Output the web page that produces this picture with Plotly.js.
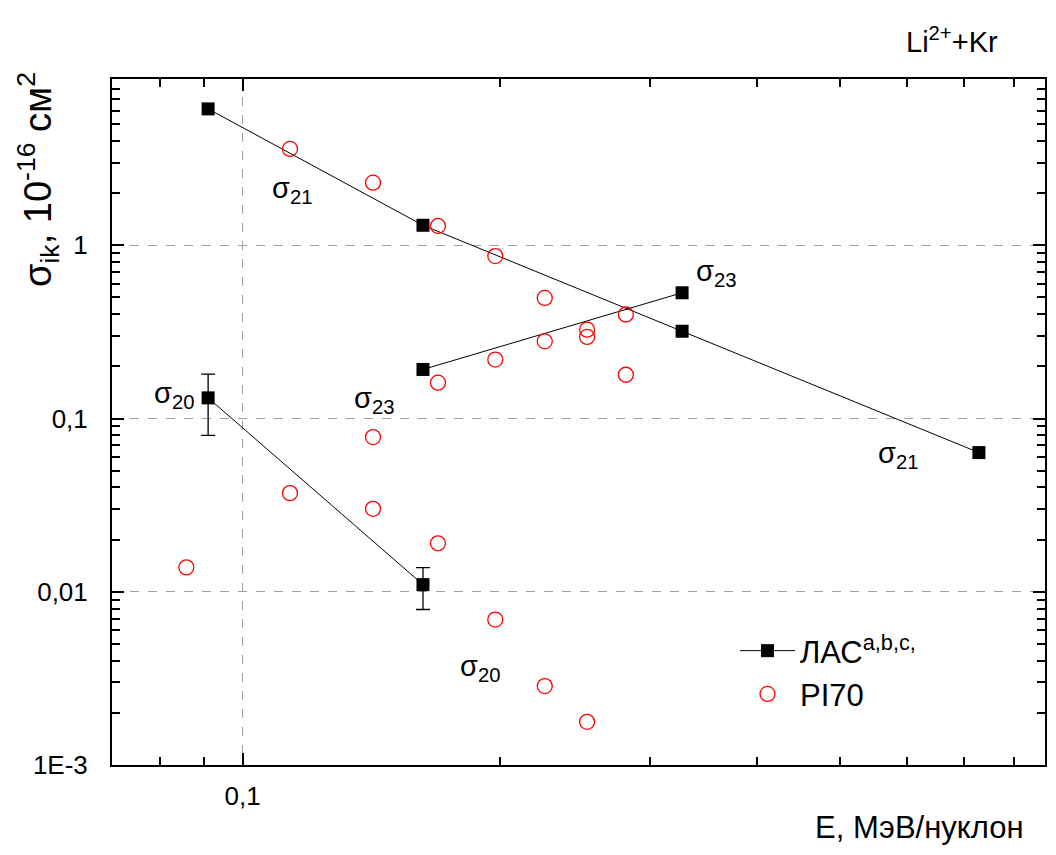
<!DOCTYPE html>
<html>
<head>
<meta charset="utf-8">
<script src="https://cdn.plot.ly/plotly-3.0.1.min.js"></script>
<style>html,body{margin:0;padding:0;background:#fff;}#chart{width:1056px;height:855px;}</style>
</head>
<body>
<div id="chart"></div>
<script>
// ---- data ----
// ЛАС measurements, E in MeV/nucleon, sigma in 1e-16 cm^2
const lasSigma21E = [0.0911, 0.1626, 0.327, 0.728];
const lasSigma21 = [6.13, 1.305, 0.319, 0.0636];
const lasSigma23E = [0.1626, 0.327];
const lasSigma23 = [0.192, 0.532];
const lasSigma20E = [0.0911, 0.1626];
const lasSigma20 = [0.1316, 0.0110];
const lasSigma20ErrPlus = [0.0489, 0.0028];
const lasSigma20ErrMinus = [0.0516, 0.0031];

// PI70 calculation
const piSigma21E = [0.1136, 0.1421, 0.1693, 0.1976, 0.2258, 0.2531, 0.281];
const piSigma21 = [3.60, 2.30, 1.293, 0.867, 0.497, 0.326, 0.3985];
const piSigma23E = [0.1421, 0.1693, 0.1976, 0.2258, 0.2531, 0.281];
const piSigma23 = [0.0782, 0.161, 0.219, 0.279, 0.296, 0.179];
const piSigma20E = [0.0859, 0.1136, 0.1421, 0.1693, 0.1976, 0.2258, 0.2531];
const piSigma20 = [0.01383, 0.0371, 0.0301, 0.01905, 0.00691, 0.002856, 0.001775];

// axis ticks
const xTickVals = [0.1];
const xTickText = ['0,1'];
const xMinorVals = [0.08, 0.09, 0.2, 0.3, 0.4, 0.5, 0.6, 0.7, 0.8];
const yTickVals = [0.001, 0.01, 0.1, 1];
const yTickText = ['1E-3', '0,01', '0,1', '1'];
const yMinorVals = [];
[0.001, 0.01, 0.1, 1].forEach(d => { for (let k = 2; k <= 9; k++) yMinorVals.push(d * k); });

// ---- layout helpers (pixel -> paper) ----
const PL = 112, PR = 1045, PT = 79, PB = 765;
const px = x => (x - PL) / (PR - PL);
const py = y => (PB - y) / (PB - PT);

const FONT = 'Liberation Sans, Arial, sans-serif';
const lineStyle = {color: '#000', width: 1};
const sq = {symbol: 'square', size: 13, color: '#000'};

const traces = [
  {x: lasSigma21E, y: lasSigma21, mode: 'lines+markers', name: 'ЛАС<sup>a,b,c,</sup>',
   legendgroup: 'las', line: lineStyle, marker: sq, showlegend: true},
  {x: lasSigma23E, y: lasSigma23, mode: 'lines+markers', name: 'ЛАС',
   legendgroup: 'las', line: lineStyle, marker: sq, showlegend: false},
  {x: lasSigma20E, y: lasSigma20, mode: 'lines+markers', name: 'ЛАС',
   legendgroup: 'las', line: lineStyle, marker: sq, showlegend: false,
   error_y: {type: 'data', array: lasSigma20ErrPlus, arrayminus: lasSigma20ErrMinus,
             visible: true, color: '#000', thickness: 1.3, width: 7}},
  {x: piSigma21E.concat(piSigma23E, piSigma20E),
   y: piSigma21.concat(piSigma23, piSigma20),
   mode: 'markers', name: 'PI70',
   marker: {symbol: 'circle-open', size: 15, color: '#ff0000', line: {width: 1.3, color: '#ff0000'}}}
];

const axisCommon = {
  type: 'log', showline: true, linecolor: '#000', linewidth: 2, mirror: 'allticks',
  ticks: 'inside', ticklen: 12, tickwidth: 2, tickcolor: '#000',
  showgrid: true, gridcolor: '#a0a0a0', gridwidth: 1, griddash: 'dash',
  zeroline: false, tickfont: {family: FONT, size: 26, color: '#000'},
};

const lab = (t, x, y) => ({
  text: 'σ<sub>' + t + '</sub>', xref: 'paper', yref: 'paper', x: px(x), y: py(y),
  xanchor: 'left', yanchor: 'middle', showarrow: false,
  font: {family: FONT, size: 29, color: '#000'}
});

const layout = {
  width: 1056, height: 855,
  margin: {l: PL, r: 1056 - PR, t: PT, b: 855 - PB, pad: 0},
  paper_bgcolor: '#fff', plot_bgcolor: '#fff',
  showlegend: true,
  legend: {x: px(735), y: py(624), xanchor: 'left', yanchor: 'top',
           font: {family: FONT, size: 31, color: '#000'}, bgcolor: 'rgba(0,0,0,0)',
           itemwidth: 55, tracegroupgap: 0},
  xaxis: Object.assign({}, axisCommon, {
    range: [Math.log10(0.0703), Math.log10(0.870)],
    tickmode: 'array', tickvals: xTickVals, ticktext: xTickText, ticklabelstandoff: 7,
    minor: {tickmode: 'array', tickvals: xMinorVals, ticks: 'inside', ticklen: 8,
            tickwidth: 2, tickcolor: '#000', showgrid: false},
  }),
  yaxis: Object.assign({}, axisCommon, {
    range: [-3, 0.96],
    tickmode: 'array', tickvals: yTickVals, ticktext: yTickText, ticklabelstandoff: 17,
    minor: {tickmode: 'array', tickvals: yMinorVals, ticks: 'inside', ticklen: 8,
            tickwidth: 2, tickcolor: '#000', showgrid: false},
  }),
  annotations: [
    {text: 'Li<sup>2+</sup>+Kr', xref: 'paper', yref: 'paper', x: px(1000), y: py(40),
     xanchor: 'right', yanchor: 'middle', showarrow: false,
     font: {family: FONT, size: 29, color: '#000'}},
    {text: 'E, МэВ/нуклон', xref: 'paper', yref: 'paper', x: px(1026), y: py(827),
     xanchor: 'right', yanchor: 'middle', showarrow: false,
     font: {family: FONT, size: 31, color: '#000'}},
    {text: 'σ<sub>ik</sub>, 10<sup>-16</sup> см<sup>2</sup>', xref: 'paper', yref: 'paper',
     x: px(38), y: py(180), xanchor: 'center', yanchor: 'middle', textangle: -90,
     showarrow: false, font: {family: FONT, size: 38, color: '#000'}},
    lab('21', 270, 190),
    lab('20', 152, 395),
    lab('23', 352, 400),
    lab('23', 694, 273),
    lab('21', 876, 455),
    lab('20', 458, 668)
  ]
};

Plotly.newPlot('chart', traces, layout, {staticPlot: true, displayModeBar: false});
</script>
</body>
</html>
